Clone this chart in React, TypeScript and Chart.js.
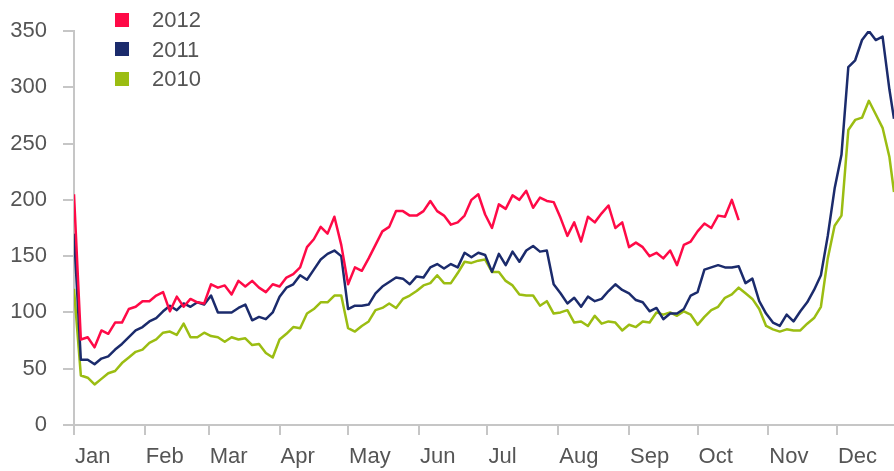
import React, { useEffect, useRef } from "react";
import { Chart, registerables } from "chart.js";

Chart.register(...registerables);

const MONTHS = ["Jan", "Feb", "Mar", "Apr", "May", "Jun", "Jul", "Aug", "Sep", "Oct", "Nov", "Dec"];
const MONTH_START_DAYS = [0, 31, 59, 90, 120, 151, 181, 212, 243, 273, 304, 334];
const Y_TICKS = [0, 50, 100, 150, 200, 250, 300, 350];

// day-of-year of each sample
const DAYS = [
  0, 3, 6, 9, 12, 15, 18, 21, 24, 27,
  30, 33, 36, 39, 42, 45, 48, 51, 54, 57,
  60, 63, 66, 69, 72, 75, 78, 81, 84, 87,
  90, 93, 96, 99, 102, 105, 108, 111, 114, 117,
  120, 123, 126, 129, 132, 135, 138, 141, 144, 147,
  150, 153, 156, 159, 162, 165, 168, 171, 174, 177,
  180, 183, 186, 189, 192, 195, 198, 201, 204, 207,
  210, 213, 216, 219, 222, 225, 228, 231, 234, 237,
  240, 243, 246, 249, 252, 255, 258, 261, 264, 267,
  270, 273, 276, 279, 282, 285, 288, 291, 294, 297,
  300, 303, 306, 309, 312, 315, 318, 321, 324, 327,
  330, 333, 336, 339, 342, 345, 348, 351, 354, 357,
  359,
];

const VALUES_2012 = [
  205, 76, 78, 69, 84, 81, 91, 91, 103, 105,
  110, 110, 115, 118, 101, 114, 105, 112, 109, 108,
  125, 122, 124, 116, 128, 123, 128, 122, 118, 125,
  123, 131, 134, 140, 158, 165, 176, 170, 185, 160,
  125, 140, 137, 148, 160, 172, 176, 190, 190, 186,
  186, 190, 199, 190, 186, 178, 180, 186, 200, 205,
  187, 175, 196, 192, 204, 200, 208, 193, 202, 199,
  198, 184, 168, 180, 163, 185, 180, 188, 195, 175,
  180, 158, 162, 158, 150, 153, 148, 155, 142, 160,
  163, 172, 179, 175, 186, 185, 200, 182,
];

const VALUES_2011 = [
  170, 58, 58, 54, 59, 61, 67, 72, 78, 84,
  87, 92, 95, 101, 106, 102, 108, 105, 109, 107,
  115, 100, 100, 100, 104, 107, 93, 96, 94, 100,
  114, 122, 125, 133, 129, 138, 147, 152, 155, 150,
  103, 106, 106, 107, 117, 123, 127, 131, 130, 125,
  132, 131, 140, 143, 139, 143, 140, 153, 149, 153,
  151, 136, 152, 142, 154, 145, 155, 159, 154, 155,
  125, 117, 108, 113, 105, 114, 110, 112, 119, 125,
  120, 117, 111, 109, 101, 104, 94, 99, 99, 103,
  115, 118, 138, 140, 142, 140, 140, 141, 126, 130,
  110, 99, 91, 88, 98, 92, 101, 109, 120, 133,
  168, 210, 240, 318, 324, 342, 350, 342, 345, 298,
  272,
];

const VALUES_2010 = [
  121, 44, 42, 36, 41, 46, 48, 55, 60, 65,
  67, 73, 76, 82, 83, 80, 90, 78, 78, 82,
  79, 78, 74, 78, 76, 77, 71, 72, 64, 60,
  76, 81, 87, 86, 99, 103, 109, 109, 115, 115,
  86, 83, 88, 92, 102, 104, 108, 104, 112, 115,
  119, 124, 126, 133, 126, 126, 135, 145, 144, 146,
  147, 136, 136, 128, 124, 116, 115, 115, 106, 110,
  99, 100, 102, 91, 92, 88, 97, 90, 92, 91,
  84, 89, 87, 92, 91, 100, 98, 100, 97, 101,
  98, 89, 96, 102, 105, 113, 116, 122, 117, 112,
  103, 88, 85, 83, 85, 84, 84, 90, 95, 105,
  148, 177, 186, 262, 271, 273, 288, 276, 264, 238,
  207,
];

const SERIES_LABELS = ["2012", "2011", "2010"];
const SERIES_COLORS = ["#ff0a47", "#1b2b6c", "#9bbd12"];
const SERIES_VALUES = [VALUES_2012, VALUES_2011, VALUES_2010];

const FONT = "'Liberation Sans', Arial, Helvetica, sans-serif";
const TEXT_COLOR = "#555555";
const AXIS_COLOR = "#c6c6c6";

export default function App() {
  const ref = useRef<HTMLCanvasElement | null>(null);

  useEffect(() => {
    const canvas = ref.current;
    if (!canvas) return;
    const chart = new Chart(canvas, {
      type: "line",
      data: {
        datasets: SERIES_LABELS.map((label, si) => ({
          label,
          data: SERIES_VALUES[si].map((v, i) => ({ x: DAYS[i], y: v })),
          borderColor: SERIES_COLORS[si],
          backgroundColor: SERIES_COLORS[si],
          borderWidth: 2.5,
          borderJoinStyle: "round",
          pointRadius: 0,
          pointHoverRadius: 0,
          tension: 0,
          fill: false,
        })),
      },
      options: {
        responsive: false,
        animation: false,
        layout: { padding: { top: 31, right: 0, bottom: 0, left: 0 } },
        plugins: {
          legend: { display: false },
          tooltip: { enabled: false },
        },
        scales: {
          x: {
            type: "linear",
            min: 0,
            max: 359,
            afterBuildTicks: (scale: any) => {
              scale.ticks = MONTH_START_DAYS.map((v) => ({ value: v }));
            },
            afterFit: (scale: any) => {
              scale.height = 46;
            },
            ticks: {
              autoSkip: false,
              maxRotation: 0,
              minRotation: 0,
              align: "start",
              labelOffset: 1,
              padding: 9,
              color: TEXT_COLOR,
              font: { family: FONT, size: 22 },
              callback: (value: any) => MONTHS[MONTH_START_DAYS.indexOf(Number(value))],
            },
            grid: {
              drawOnChartArea: false,
              drawTicks: true,
              tickLength: 10,
              color: AXIS_COLOR,
              lineWidth: 2,
            },
            border: { display: true, color: AXIS_COLOR, width: 2 },
          },
          y: {
            min: 0,
            max: 350,
            afterBuildTicks: (scale: any) => {
              scale.ticks = Y_TICKS.map((v) => ({ value: v }));
            },
            afterFit: (scale: any) => {
              scale.width = 74;
            },
            ticks: {
              padding: 16,
              color: TEXT_COLOR,
              font: { family: FONT, size: 22 },
            },
            grid: {
              drawOnChartArea: false,
              drawTicks: true,
              tickLength: 11,
              color: AXIS_COLOR,
              lineWidth: 2,
            },
            border: { display: true, color: AXIS_COLOR, width: 2 },
          },
        },
      },
    });
    return () => chart.destroy();
  }, []);

  return (
    <div
      style={{
        position: "fixed",
        left: 0,
        top: 0,
        width: 894,
        height: 471,
        background: "#ffffff",
        overflow: "hidden",
      }}
    >
      <canvas ref={ref} width={894} height={471} style={{ width: 894, height: 471, display: "block" }} />
      <div style={{ position: "absolute", left: 115, top: 5, fontFamily: FONT, fontSize: 22, color: TEXT_COLOR }}>
        {SERIES_LABELS.map((label, i) => (
          <div key={label} style={{ display: "flex", alignItems: "center", height: 29.5 }}>
            <span
              style={{
                display: "inline-block",
                width: 14,
                height: 14,
                background: SERIES_COLORS[i],
                marginRight: 23,
              }}
            />
            <span style={{ lineHeight: "29.5px" }}>{label}</span>
          </div>
        ))}
      </div>
    </div>
  );
}
